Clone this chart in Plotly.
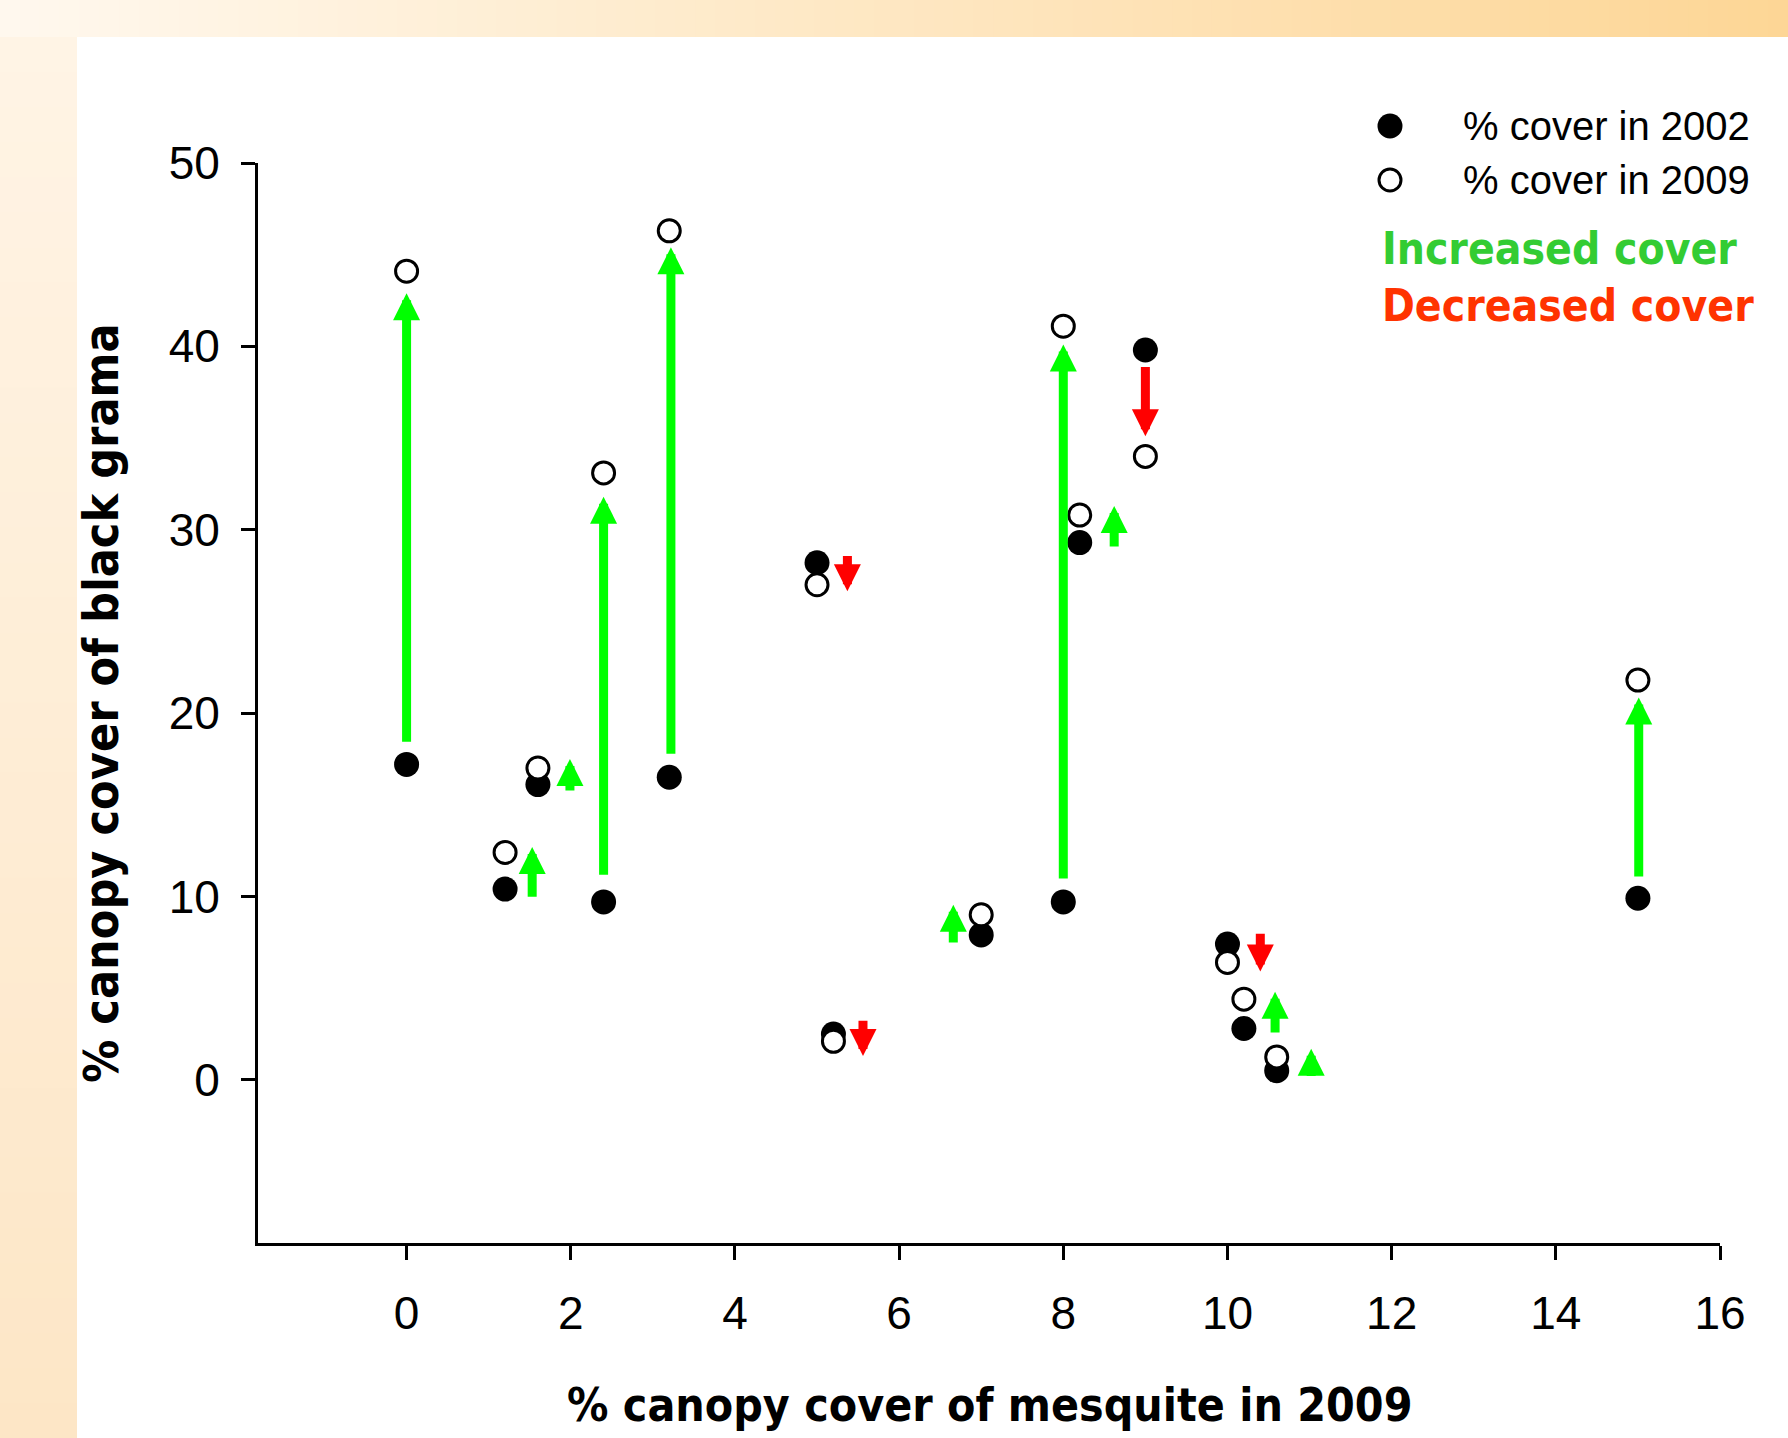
import plotly.graph_objects as go

# ---------------- data ----------------
mesquite_2009 = [0.0, 1.2, 1.6, 2.4, 3.2, 5.0, 5.2, 7.0, 8.0, 8.2, 9.0, 10.0, 10.2, 10.6, 15.0]
cover_2002 = [17.2, 10.4, 16.1, 9.7, 16.5, 28.2, 2.5, 7.9, 9.7, 29.3, 39.8, 7.4, 2.8, 0.5, 9.9]
cover_2009 = [44.1, 12.4, 17.0, 33.1, 46.3, 27.0, 2.1, 9.0, 41.1, 30.8, 34.0, 6.4, 4.4, 1.25, 21.8]

arrow_x = [0.0, 1.53, 1.99, 2.4, 3.22, 5.37, 5.56, 6.66, 8.0, 8.62, 9.0, 10.4, 10.58, 11.02, 15.01]
arrow_from = [18.35, 9.9, 15.7, 11.1, 17.7, 28.65, 3.3, 7.4, 10.9, 29.0, 38.95, 8.05, 2.5, 0.12, 11.0]
arrow_to = [42.9, 12.7, 17.5, 31.8, 45.4, 26.65, 1.3, 9.55, 40.1, 31.3, 35.1, 5.9, 4.8, 1.7, 20.85]

x_ticks = [0, 2, 4, 6, 8, 10, 12, 14, 16]
y_ticks = [0, 10, 20, 30, 40, 50]

legend_labels = ["% cover in 2002", "% cover in 2009"]
key_labels = ["Increased cover", "Decreased cover"]
x_title = "% canopy cover of mesquite in 2009"
y_title = "% canopy cover of black grama"

# ---------------- layout geometry ----------------
W, H = 1788, 1438
L, R, T, B = 258, 1720, 163, 1243


def px_x(px):
    return (px - L) / (R - L)


def px_y(py):
    return (B - py) / (B - T)


GREEN = "#00ff00"
RED = "#ff0000"
BOLD_FONT = "DejaVu Sans Condensed, Noto Sans, DejaVu Sans, sans-serif"
REG_FONT = "Liberation Sans, Arial, sans-serif"

fig = go.Figure()

fig.add_trace(go.Scatter(
    x=mesquite_2009, y=cover_2002, mode="markers", name=legend_labels[0],
    marker=dict(size=25, color="black", line=dict(width=0)),
    showlegend=False,
))
fig.add_trace(go.Scatter(
    x=mesquite_2009, y=cover_2009, mode="markers", name=legend_labels[1],
    marker=dict(size=22, color="white", line=dict(width=3, color="black")),
    showlegend=False,
))

annotations = []
for xa, y0, y1 in zip(arrow_x, arrow_from, arrow_to):
    col = GREEN if y1 > y0 else RED
    annotations.append(dict(
        x=xa, y=y1, ax=xa, ay=y0, xref="x", yref="y", axref="x", ayref="y",
        text="", showarrow=True, arrowhead=2, arrowsize=0.6, arrowwidth=9,
        arrowcolor=col, standoff=0, startstandoff=0,
    ))

# legend texts
annotations.append(dict(x=px_x(1461), y=px_y(126), xref="paper", yref="paper",
                        text=legend_labels[0], showarrow=False, xanchor="left", yanchor="middle",
                        font=dict(family=REG_FONT, size=40, color="black")))
annotations.append(dict(x=px_x(1461), y=px_y(180), xref="paper", yref="paper",
                        text=legend_labels[1], showarrow=False, xanchor="left", yanchor="middle",
                        font=dict(family=REG_FONT, size=40, color="black")))
annotations.append(dict(x=px_x(1380), y=px_y(249), xref="paper", yref="paper",
                        text="<b>%s</b>" % key_labels[0], showarrow=False, xanchor="left", yanchor="middle",
                        font=dict(family=BOLD_FONT, size=44, color="#33cc33")))
annotations.append(dict(x=px_x(1380), y=px_y(305), xref="paper", yref="paper",
                        text="<b>%s</b>" % key_labels[1], showarrow=False, xanchor="left", yanchor="middle",
                        font=dict(family=BOLD_FONT, size=44, color="#ff3300")))
# axis titles
annotations.append(dict(x=0.5, y=px_y(1405), xref="paper", yref="paper",
                        text="<b>%s</b>" % x_title, showarrow=False, xanchor="center", yanchor="middle",
                        font=dict(family=BOLD_FONT, size=46, color="black")))
annotations.append(dict(x=px_x(101), y=0.5, xref="paper", yref="paper",
                        text="<b>%s</b>" % y_title, showarrow=False, xanchor="center", yanchor="middle",
                        textangle=-90,
                        font=dict(family=BOLD_FONT, size=48, color="black")))

shapes = []
# background gradient bands (slide background)
n_top = 90
c_left = (255, 248, 238)
c_right = (253, 214, 150)
for i in range(n_top):
    t = (i + 0.5) / n_top
    col = tuple(round(a + (b - a) * t) for a, b in zip(c_left, c_right))
    shapes.append(dict(type="rect", xref="paper", yref="paper", layer="below",
                       x0=px_x(W * i / n_top), x1=px_x(W * (i + 1) / n_top + 1),
                       y0=px_y(37), y1=px_y(0),
                       fillcolor="rgb(%d,%d,%d)" % col, line=dict(width=0)))
n_left = 40
c_top = (255, 244, 229)
c_bot = (253, 230, 198)
for i in range(n_left):
    t = (i + 0.5) / n_left
    col = tuple(round(a + (b - a) * t) for a, b in zip(c_top, c_bot))
    y0p = 37 + (H - 37) * i / n_left
    y1p = 37 + (H - 37) * (i + 1) / n_left + 1
    shapes.append(dict(type="rect", xref="paper", yref="paper", layer="below",
                       x0=px_x(0), x1=px_x(77), y0=px_y(y1p), y1=px_y(y0p),
                       fillcolor="rgb(%d,%d,%d)" % col, line=dict(width=0)))

# legend markers
shapes.append(dict(type="circle", xref="paper", yref="paper", xsizemode="pixel", ysizemode="pixel",
                   xanchor=px_x(1390), yanchor=px_y(126), x0=-12.5, x1=12.5, y0=-12.5, y1=12.5,
                   fillcolor="black", line=dict(width=0)))
shapes.append(dict(type="circle", xref="paper", yref="paper", xsizemode="pixel", ysizemode="pixel",
                   xanchor=px_x(1390), yanchor=px_y(180), x0=-11, x1=11, y0=-11, y1=11,
                   fillcolor="white", line=dict(width=3, color="black")))

fig.update_layout(
    width=W, height=H,
    margin=dict(l=L, r=W - R, t=T, b=H - B, pad=0),
    paper_bgcolor="white", plot_bgcolor="white",
    showlegend=False,
    annotations=annotations,
    shapes=shapes,
    font=dict(family=REG_FONT, color="black"),
)
fig.update_xaxes(
    range=[-1.81, 16], tickvals=x_ticks, ticktext=[str(v) for v in x_ticks],
    ticks="outside", ticklen=14, tickwidth=3, tickcolor="black",
    showline=True, linewidth=3, linecolor="black", mirror=False,
    showgrid=False, zeroline=False,
    tickfont=dict(family=REG_FONT, size=46, color="black"), ticklabelstandoff=14,
)
fig.update_yaxes(
    range=[-8.9, 50], tickvals=y_ticks, ticktext=[str(v) for v in y_ticks],
    ticks="outside", ticklen=14, tickwidth=3, tickcolor="black",
    showline=True, linewidth=3, linecolor="black", mirror=False,
    showgrid=False, zeroline=False,
    tickfont=dict(family=REG_FONT, size=46, color="black"), ticklabelstandoff=12,
)

fig.write_html("out.html", config={"displayModeBar": False},
               post_script="document.body.style.margin='0';document.body.style.overflow='hidden';")
